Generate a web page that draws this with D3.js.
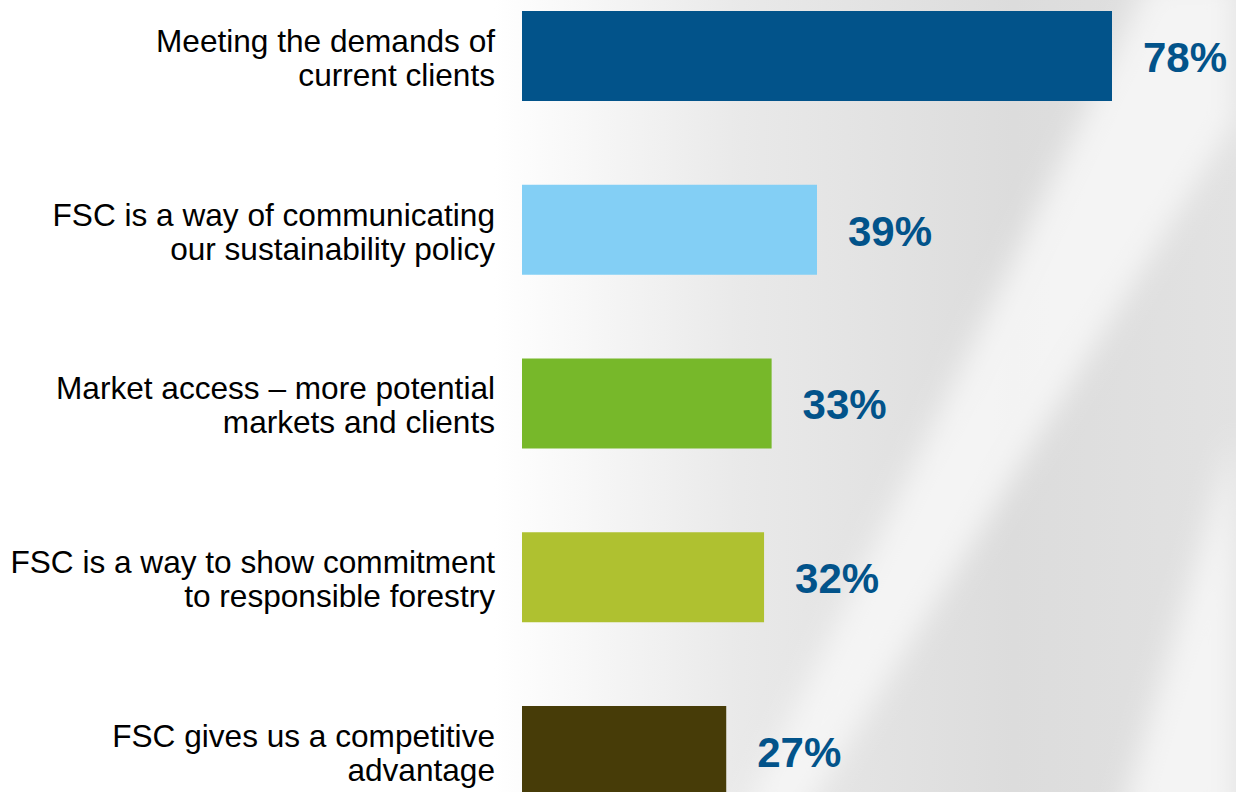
<!DOCTYPE html>
<html lang="en">
<head>
  <meta charset="UTF-8" />
  <title>FSC reasons</title>
  <style>
  html, body { margin: 0; padding: 0; background: #fff; }
  svg { display: block; }
  .cat { font-family: "Liberation Sans", Arial, sans-serif; font-size: 31.6px; fill: #000; }
  .val { font-family: "Liberation Sans", Arial, sans-serif; font-size: 42px; font-weight: bold; fill: #02538a; }
  </style>
</head>
<body>
  <svg id="chart"></svg>

  <script src="https://cdn.jsdelivr.net/npm/d3@7/dist/d3.min.js"></script>
  <script>
  // data
  var labels = [
    ["Meeting the demands of", "current clients"],
    ["FSC is a way of communicating", "our sustainability policy"],
    ["Market access \u2013 more potential", "markets and clients"],
    ["FSC is a way to show commitment", "to responsible forestry"],
    ["FSC gives us a competitive", "advantage"]
  ];
  var values = [78, 39, 33, 32, 27];
  var colors = ["#02538a", "#83cff5", "#77b82a", "#afc130", "#473c08"];

  var w = 1236, h = 792;

  var svg = d3.select("#chart")
    .attr("width", w)
    .attr("height", h);

  // background: white fading into grey with a couple of light diagonal streaks
  var defs = svg.append("defs");
  var bg = defs.append("linearGradient").attr("id", "bg")
    .attr("x1", 0).attr("x2", 1).attr("y1", 0).attr("y2", 0);
  bg.append("stop").attr("offset", "0.40").attr("stop-color", "#ffffff");
  bg.append("stop").attr("offset", "0.60").attr("stop-color", "#e9e9e9");
  bg.append("stop").attr("offset", "0.82").attr("stop-color", "#dcdcdc");
  bg.append("stop").attr("offset", "1").attr("stop-color", "#e2e2e2");

  var blur = defs.append("filter").attr("id", "soft")
    .attr("x", "-50%").attr("y", "-50%").attr("width", "200%").attr("height", "200%");
  blur.append("feGaussianBlur").attr("stdDeviation", 14);

  svg.append("rect").attr("width", w).attr("height", h).attr("fill", "url(#bg)");

  var streaks = [
    [[1150, -20], [1236, -20], [1236, 120], [800, 820], [740, 820]],
    [[1236, 430], [1236, 820], [1120, 820]]
  ];
  svg.append("g").attr("filter", "url(#soft)")
    .selectAll("path")
    .data(streaks)
    .enter()
    .append("path")
      .attr("d", function(d) { return "M" + d.join("L") + "Z"; })
      .attr("fill", "#f6f6f6")
      .attr("opacity", 0.9);

  var xScale = d3.scaleLinear()
    .domain([0, 78])
    .range([522, 1112]);

  var yScale = d3.scaleBand()
    .domain(d3.range(values.length))
    .range([11, 796])
    .paddingInner(0.482)
    .paddingOuter(0);

  var row = svg.selectAll("g.row")
    .data(values)
    .enter()
    .append("g")
      .attr("class", "row")
      .attr("transform", function(d, i) { return "translate(0," + yScale(i) + ")"; });

  row.append("rect")
    .attr("x", xScale(0))
    .attr("width", function(d) { return xScale(d) - xScale(0); })
    .attr("height", yScale.bandwidth())
    .attr("fill", function(d, i) { return colors[i]; });

  var mid = yScale.bandwidth() / 2;

  row.append("text")
    .attr("class", "val")
    .attr("x", function(d) { return xScale(d) + 31; })
    .attr("y", mid + 16)
    .text(function(d) { return d + "%"; });

  var cat = row.append("text")
    .attr("class", "cat")
    .attr("text-anchor", "end")
    .attr("x", 495)
    .attr("y", mid - 4);

  cat.selectAll("tspan")
    .data(function(d, i) { return labels[i]; })
    .enter()
    .append("tspan")
      .attr("x", 495)
      .attr("dy", function(d, j) { return j === 0 ? 0 : 34; })
      .text(function(d) { return d; });
  </script>
</body>
</html>
